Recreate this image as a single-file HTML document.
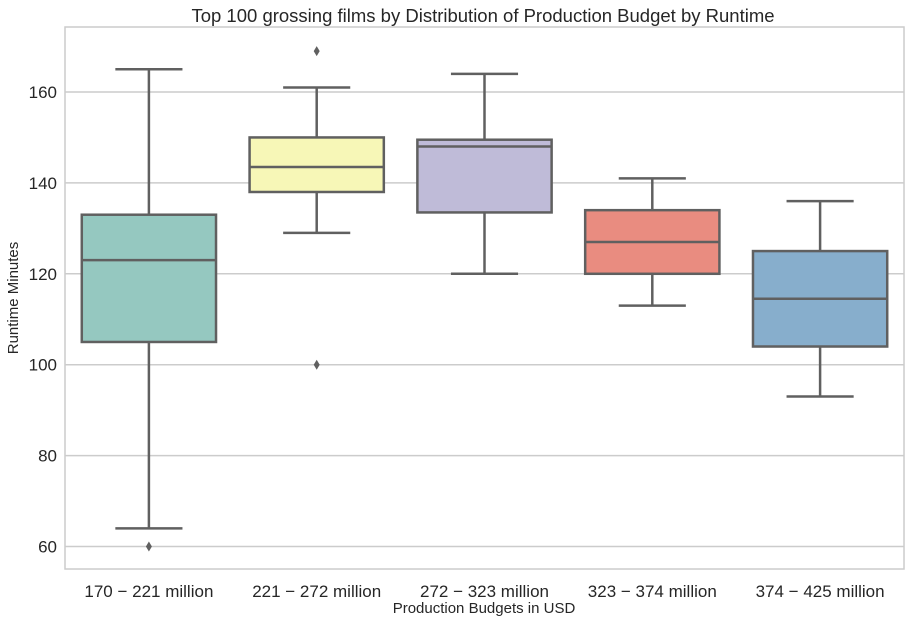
<!DOCTYPE html>
<html><head><meta charset="utf-8"><style>
body{margin:0;background:#fff;}
svg{display:block;font-family:"Liberation Sans",sans-serif;}
</style></head><body>
<svg id="chart" width="909" height="624">
<text x="483" y="22" text-anchor="middle" font-size="18.5" fill="#262626">Top 100 grossing films by Distribution of Production Budget by Runtime</text>
<text transform="translate(18,298) rotate(-90)" text-anchor="middle" font-size="15" fill="#262626">Runtime Minutes</text>
<text x="484" y="613" text-anchor="middle" font-size="15" fill="#262626">Production Budgets in USD</text>
<g id="grid"></g><g id="boxes"></g>
<rect x="65" y="27" width="839" height="542" fill="none" stroke="#cccccc" stroke-width="1.5"/>
</svg>
<script>
const categories=["170 − 221 million","221 − 272 million","272 − 323 million","323 − 374 million","374 − 425 million"];
const whiskerLow=[64,129,120,113,93];
const q1=[105,138,133.5,120,104];
const medians=[123,143.5,148,127,114.5];
const q3=[133,150,149.5,134,125];
const whiskerHigh=[165,161,164,141,136];
const outliers=[[60],[169,100],[],[],[]];
const yTicks=[60,80,100,120,140,160];
const colors=["#95c8c0","#f7f7b7","#bfbbd8","#e98c80","#87aecc"];
const NS="http://www.w3.org/2000/svg";
const L=65,R=904,T=27,B=569,yMin=55.05,yMax=174.3;
const y=v=>B-(v-yMin)/(yMax-yMin)*(B-T);
const bw=(R-L)/categories.length;
const x=i=>L+bw*(i+0.5);
function mk(tag,attrs,parent){const e=document.createElementNS(NS,tag);for(const k in attrs)e.setAttribute(k,attrs[k]);parent.appendChild(e);return e;}
const g=document.getElementById('grid'),bx=document.getElementById('boxes');
yTicks.forEach(t=>{
 const l=mk('line',{x1:L,x2:R,y1:y(t),y2:y(t),stroke:'#cccccc','stroke-width':1.5},g);
 
 
 const tx=mk('text',{x:L-8,y:y(t)+6,'text-anchor':'end','font-size':17,fill:'#262626'},g);
 tx.textContent=t;
 
 
});
const st={stroke:'#606060','stroke-width':2.5,fill:'none'};
categories.forEach((c,i)=>{
 const cx=x(i),hw=bw*0.4,cw=bw*0.2;
 const grp=mk('g',{},bx);
 
 
 mk('line',Object.assign({x1:cx,x2:cx,y1:y(whiskerLow[i]),y2:y(q1[i])},st),grp);
 mk('line',Object.assign({x1:cx,x2:cx,y1:y(q3[i]),y2:y(whiskerHigh[i])},st),grp);
 mk('line',Object.assign({x1:cx-cw,x2:cx+cw,y1:y(whiskerLow[i]),y2:y(whiskerLow[i])},st),grp);
 mk('line',Object.assign({x1:cx-cw,x2:cx+cw,y1:y(whiskerHigh[i]),y2:y(whiskerHigh[i])},st),grp);
 mk('rect',{x:cx-hw,y:y(q3[i]),width:2*hw,height:y(q1[i])-y(q3[i]),fill:colors[i],stroke:'#606060','stroke-width':2.5},grp);
 mk('line',Object.assign({x1:cx-hw,x2:cx+hw,y1:y(medians[i]),y2:y(medians[i])},st),grp);
 outliers[i].forEach(o=>{
  const d=mk('path',{d:`M${cx},${y(o)-5}L${cx+3},${y(o)}L${cx},${y(o)+5}L${cx-3},${y(o)}Z`,fill:'#606060'},grp);
  
  
 });
 const tx=mk('text',{x:cx,y:B+28,'text-anchor':'middle','font-size':17,fill:'#262626'},bx);
 tx.textContent=c;
 
 
});
</script>
</body></html>
